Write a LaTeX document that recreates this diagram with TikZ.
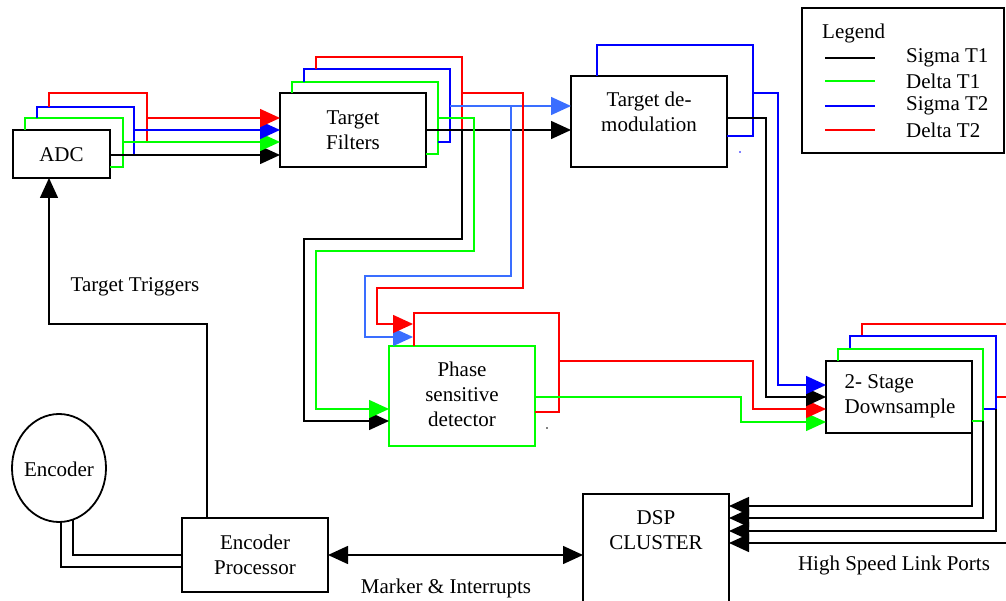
\documentclass[tikz,border=0pt]{standalone}
\usepackage{fontspec}
\setmainfont{Liberation Serif}
\usetikzlibrary{arrows.meta,shapes.geometric,calc}
\definecolor{sred}{RGB}{255,0,0}
\definecolor{sgreen}{RGB}{0,255,0}
\definecolor{sblue}{RGB}{0,0,255}
\definecolor{lblue}{RGB}{58,110,255}
\begin{document}
\begin{tikzpicture}[x=1pt,y=-1pt,
  box/.style={draw, line width=1.8pt, fill=white, inner sep=0pt, outer sep=0pt},
  wire/.style={line width=1.5pt},
  tip/.style={-{Triangle[length=20pt,width=18pt]}},
  dtip/.style={{Triangle[length=20pt,width=18pt]}-{Triangle[length=20pt,width=18pt]}},
  txt/.style={font=\fontsize{21}{25}\selectfont, align=center, inner sep=0pt},
]
\useasboundingbox (0,0) rectangle (1006,601);

% ---- boxes ----
\node[box, minimum width=97pt, minimum height=48pt] (adc) at (61.5,154) {};
\node[box, minimum width=146pt, minimum height=74pt] (tf) at (353,130) {};
\node[box, minimum width=156pt, minimum height=91pt] (td) at (649,121.5) {};
\node[box, draw=sgreen, minimum width=146pt, minimum height=100pt] (psd) at (462,396) {};
\node[box, minimum width=146pt, minimum height=72pt] (ds) at (899,397) {};
\node[box, minimum width=146pt, minimum height=146pt] (dsp) at (656,567) {};
\node[box, minimum width=146pt, minimum height=74pt] (ep) at (255,555) {};
\node[box, minimum width=202pt, minimum height=145pt, fill=none] (leg) at (903,80.5) {};

% ---- texts in boxes ----
\node[txt] (adct) at (61.5,155) {ADC};
\node[txt] (tft) at (353,130) {Target\\Filters};
\node[txt] (tdt) at (649,112) {Target de-\\modulation};
\node[txt] (psdt) at (462,394) {Phase\\sensitive\\detector};
\node[txt, align=left] (dst) at (900,396) {2- Stage\\Downsample};
\node[txt] (dspt) at (656,530) {DSP\\CLUSTER};
\node[txt] (ept) at (255,555) {Encoder\\Processor};

% ---- ADC outputs ----
\draw[wire, sgreen] ($(adc.north west)+(12,0)$) -- (25,118) -- (123,118) -- (123,167) -- (adc.east |- 0,167);
\draw[wire, sblue] (37,118) -- (37,107) -- (134,107) -- (134,155);
\draw[wire, sred] (49,107) -- (49,93) -- (147,93) -- (147,142);
\draw[wire, tip] (adc.east |- 0,155) -- (tf.west |- 0,155);
\draw[wire, sgreen, tip] (123,142) -- (tf.west |- 0,142);
\draw[wire, sblue, tip] (134,130) -- (tf.west |- 0,130);
\draw[wire, sred, tip] (147,118) -- (tf.west |- 0,118);

% ---- Target filters outputs ----
\draw[wire, sgreen] ($(tf.north west)+(12,0)$) -- (292,82) -- (438,82) -- (438,154) -- (tf.east |- 0,154);
\draw[wire, sblue] (304,82) -- (304,69) -- (450,69) -- (450,142) -- (438,142);
\draw[wire, sred] (316,69) -- (316,57) -- (462,57) -- (462,130);
\draw[wire, tip] (tf.east |- 0,130) -- (td.west |- 0,130);
\draw[wire, lblue, tip] (450,106) -- (td.west |- 0,106);
\draw[wire, tip] (462,130) -- (462,239) -- (304,239) -- (304,421) -- (psd.west |- 0,421);
\draw[wire, sgreen, tip] (438,118) -- (474,118) -- (474,251) -- (316,251) -- (316,409) -- (psd.west |- 0,409);
\draw[wire, lblue, tip] (511,106) -- (511,276) -- (365,276) -- (365,337) -- (413,337);
\draw[wire, sred, tip] (462,93) -- (523,93) -- (523,288) -- (377,288) -- (377,324) -- (413,324);

% ---- Target demodulation outputs ----
\draw[wire, sblue] ($(td.north west)+(26,0)$) -- (597,45) -- (753,45) -- (753,136) -- (td.east |- 0,136);

% ---- Phase sensitive detector outputs ----
\draw[wire, sred] ($(psd.north west)+(25,0)$) -- (414,313) -- (559,313) -- (559,412) -- (psd.east |- 0,412);

% ---- into downsample (bottom first) ----
\draw[wire, sgreen, tip] (psd.east |- 0,397) -- (741,397) -- (741,422) -- (ds.west |- 0,422);
\draw[wire, sred, tip] (559,361) -- (753,361) -- (753,409) -- (ds.west |- 0,409);
\draw[wire, tip] (td.east |- 0,118) -- (766,118) -- (766,397) -- (ds.west |- 0,397);
\draw[wire, sblue, tip] (753,93) -- (778,93) -- (778,385) -- (ds.west |- 0,385);

% ---- downsample frames ----
\draw[wire, sred] (862,336) -- (862,324) -- (1012,324) -- (1012,397) -- (996,397);
\draw[wire, sblue] (850,349) -- (850,336) -- (996,336) -- (996,409) -- (983,409);
\draw[wire, sgreen] ($(ds.north west)+(12,0)$) -- (838,349) -- (983,349) -- (983,421) -- (ds.east |- 0,421);

% ---- to DSP cluster ----
\draw[wire, tip] (1012,543) -- (dsp.east |- 0,543);
\draw[wire, tip] (996,409) -- (996,531) -- (dsp.east |- 0,531);
\draw[wire, tip] (983,421) -- (983,518) -- (dsp.east |- 0,518);
\draw[wire, tip] (ds.south east) -- (972,506) -- (dsp.east |- 0,506);

% ---- encoder ----
\draw[wire] (61,510) -- (61,567) -- (ep.west |- 0,567);
\draw[wire] (73,510) -- (73,555) -- (ep.west |- 0,555);
\node[draw, ellipse, line width=1.8pt, fill=white, minimum width=94pt, minimum height=108pt, inner sep=0pt] (enc) at (59,468) {};
\node[txt] (enct) at (59,469) {Encoder};

\draw[wire, tip] ($(ep.north west)+(25,0)$) -- (207,324) -- (49,324) -- (adc.south -| 49,0);
\draw[wire, dtip] (ep.east |- 0,555) -- (dsp.west |- 0,555);

% ---- labels ----
\node[txt] (ltt) at (135,287) {Target Triggers};
\node[txt] (lmi) at (446,588) {Marker \& Interrupts};
\node[txt] (lhs) at (894,565) {High Speed Link Ports};

% ---- legend ----
\node[txt, anchor=west] (legt) at (822,33) {Legend};
\coordinate (l1a) at (825,58); \coordinate (l1b) at (875,58);
\coordinate (l2a) at (825,81); \coordinate (l2b) at (875,81);
\coordinate (l3a) at (825,106); \coordinate (l3b) at (875,106);
\coordinate (l4a) at (825,130); \coordinate (l4b) at (875,130);
\draw[wire] (l1a) -- (l1b);
\draw[wire, sgreen] (l2a) -- (l2b);
\draw[wire, sblue] (l3a) -- (l3b);
\draw[wire, sred] (l4a) -- (l4b);
\node[txt, anchor=west] (s1) at (906,58) {Sigma T1};
\node[txt, anchor=west] (s2) at (906,81) {Delta T1};
\node[txt, anchor=west] (s3) at (906,106) {Sigma T2};
\node[txt, anchor=west] (s4) at (906,130) {Delta T2};

% ---- stray dots ----
\fill[sblue] (740,152) circle (0.9pt);
\fill (547,428) circle (0.9pt);
\end{tikzpicture}
\end{document}
